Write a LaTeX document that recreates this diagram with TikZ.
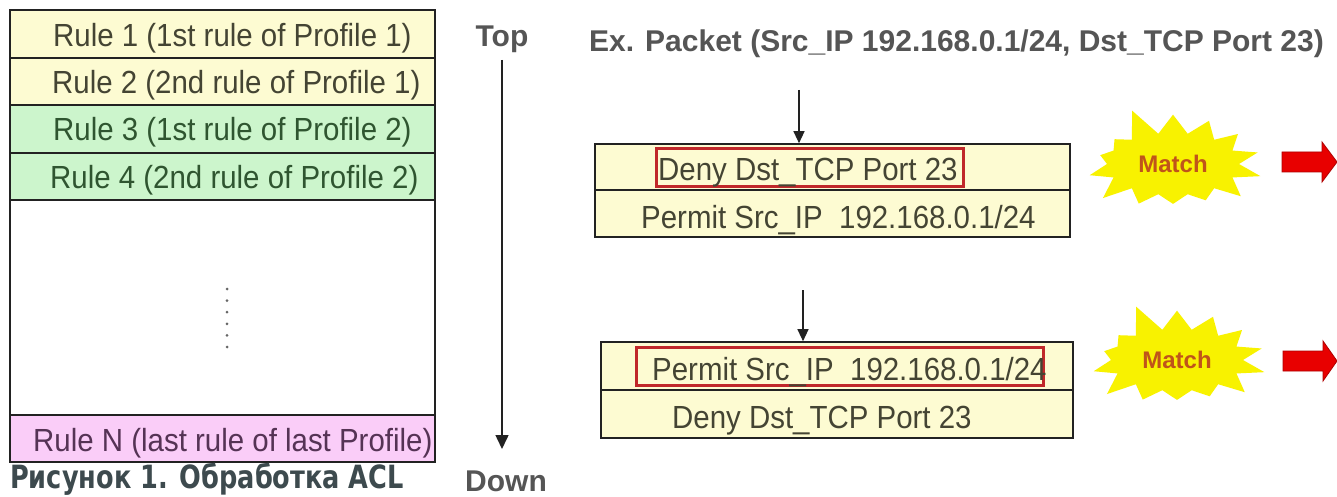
\documentclass[tikz,border=0pt]{standalone}
\usepackage{fontspec}
\setmainfont{Liberation Sans}
\newfontfamily\rulefont[FakeStretch=0.92]{Liberation Sans}
\newfontfamily\capfont[FakeStretch=0.8]{DejaVu Sans}
\usetikzlibrary{arrows.meta,shapes.symbols}

\definecolor{boxline}{HTML}{222222}
\definecolor{ylwfill}{HTML}{FDFBD2}
\definecolor{grnfill}{HTML}{CCF5CC}
\definecolor{pnkfill}{HTML}{FACDF8}
\definecolor{ylwtext}{HTML}{444433}
\definecolor{grntext}{HTML}{2F5530}
\definecolor{pnktext}{HTML}{553355}
\definecolor{headgray}{HTML}{555555}
\definecolor{hitred}{HTML}{C0282A}
\definecolor{staryellow}{HTML}{F8F200}
\definecolor{matchtext}{HTML}{C0541A}
\definecolor{arrowred}{HTML}{E80000}
\definecolor{captext}{HTML}{3D4A4E}

\tikzset{
  rowbox/.style={draw=boxline, line width=1.6pt, inner sep=0pt, minimum width=#1},
  ruletext/.style={anchor=base west, inner sep=0pt, font=\rulefont\fontsize{32}{36}\selectfont},
  headtext/.style={inner sep=0pt, text=headgray, font=\bfseries\fontsize{30}{34}\selectfont},
  hitbox/.style={draw=hitred, line width=3pt},
  flow/.style={draw=boxline, line width=1.2pt, -{Triangle[width=11pt,length=12pt]}},
  burst/.style={starburst, starburst points=14, starburst point height=30pt,
    random starburst=5, fill=staryellow, draw=none, inner sep=0pt,
    minimum width=192pt, minimum height=122pt, text=matchtext,
    font=\bfseries\fontsize{24}{28}\selectfont},
  bigarrow/.style={fill=arrowred, draw=arrowred!75!black, line width=0.8pt},
  dot/.style={circle, fill=gray!80!black, inner sep=0pt, minimum size=3pt}
}

\begin{document}
\begin{tikzpicture}[x=1pt, y=-1pt]
\useasboundingbox[fill=white] (0,0) rectangle (1337,497);

% ---- rule table ----
\node[rowbox=425pt, minimum height=48pt, fill=ylwfill] (r1) at (222.5,34) {};
\node[rowbox=425pt, minimum height=47pt, fill=ylwfill] (r2) at (222.5,81.5) {};
\node[rowbox=425pt, minimum height=48pt, fill=grnfill] (r3) at (222.5,129) {};
\node[rowbox=425pt, minimum height=47pt, fill=grnfill] (r4) at (222.5,176.5) {};
\node[rowbox=425pt, minimum height=215pt, fill=white] (rgap) at (222.5,307.5) {};
\node[rowbox=425pt, minimum height=47pt, fill=pnkfill] (rn) at (222.5,438.5) {};

\node[ruletext, text=ylwtext] (t1) at (53,47) {Rule 1 (1st rule of Profile 1)};
\node[ruletext, text=ylwtext] (t2) at (52,94) {Rule 2 (2nd rule of Profile 1)};
\node[ruletext, text=grntext] (t3) at (53,141) {Rule 3 (1st rule of Profile 2)};
\node[ruletext, text=grntext] (t4) at (50,188) {Rule 4 (2nd rule of Profile 2)};
\node[ruletext, text=pnktext] (tn) at (33,451) {Rule N (last rule of last Profile)};

\foreach \i in {0,...,5} {
  \node[dot] (d\i) at (227,289+11.6*\i) {};
}

\node[anchor=base west, inner sep=0pt, text=captext,
      font=\capfont\bfseries\fontsize{32}{36}\selectfont] (cap) at (10,488)
      {Рисунок 1. Обработка ACL};

% ---- processing order ----
\node[headtext, anchor=base] (top) at (502,47) {Top};
\node[headtext, anchor=base] (down) at (506,491) {Down};
\coordinate (ordstart) at (502,60);
\coordinate (ordend) at (502,449);
\draw[draw=boxline, line width=1.5pt, -{Triangle[width=13pt,length=14pt]}] (ordstart) -- (ordend);

% ---- example packet ----
\node[headtext, anchor=base] (pkt) at (956.5,52) {Ex. Packet (Src\_IP 192.168.0.1/24, Dst\_TCP Port 23)};

% first profile order
\node[rowbox=475pt, minimum height=46pt, fill=ylwfill] (a1) at (832.5,167) {};
\node[rowbox=475pt, minimum height=47pt, fill=ylwfill] (a2) at (832.5,213.5) {};
\draw[hitbox] (656,149) rectangle (963,186);
\node[ruletext, text=ylwtext] (a1t) at (658,180) {Deny Dst\_TCP Port 23};
\node[ruletext, text=ylwtext] (a2t) at (641,228) {Permit Src\_IP\ \ 192.168.0.1/24};
\coordinate (in1) at (799,90);
\draw[flow] (in1) -- (in1 |- a1.north);

% second profile order
\node[rowbox=472pt, minimum height=48pt, fill=ylwfill] (b1) at (837,366) {};
\node[rowbox=472pt, minimum height=48pt, fill=ylwfill] (b2) at (837,414) {};
\draw[hitbox] (636,347) rectangle (1043,385);
\node[ruletext, text=ylwtext] (b1t) at (652,380) {Permit Src\_IP\ \ 192.168.0.1/24};
\node[ruletext, text=ylwtext] (b2t) at (672,428) {Deny Dst\_TCP Port 23};
\coordinate (in2) at (803,290);
\draw[flow] (in2) -- (in2 |- b1.north);

% ---- match bursts and result arrows ----
\node[burst] (m1) at (1173,164) {Match};
\node[burst] (m2) at (1177,360) {Match};

\draw[bigarrow] (1282,152) -- (1322,152) -- (1322,142) -- (1337,162)
  -- (1322,182) -- (1322,172) -- (1282,172) -- cycle;
\draw[bigarrow] (1283,351) -- (1323,351) -- (1323,341) -- (1337,361)
  -- (1323,381) -- (1323,371) -- (1283,371) -- cycle;
\end{tikzpicture}
\end{document}
